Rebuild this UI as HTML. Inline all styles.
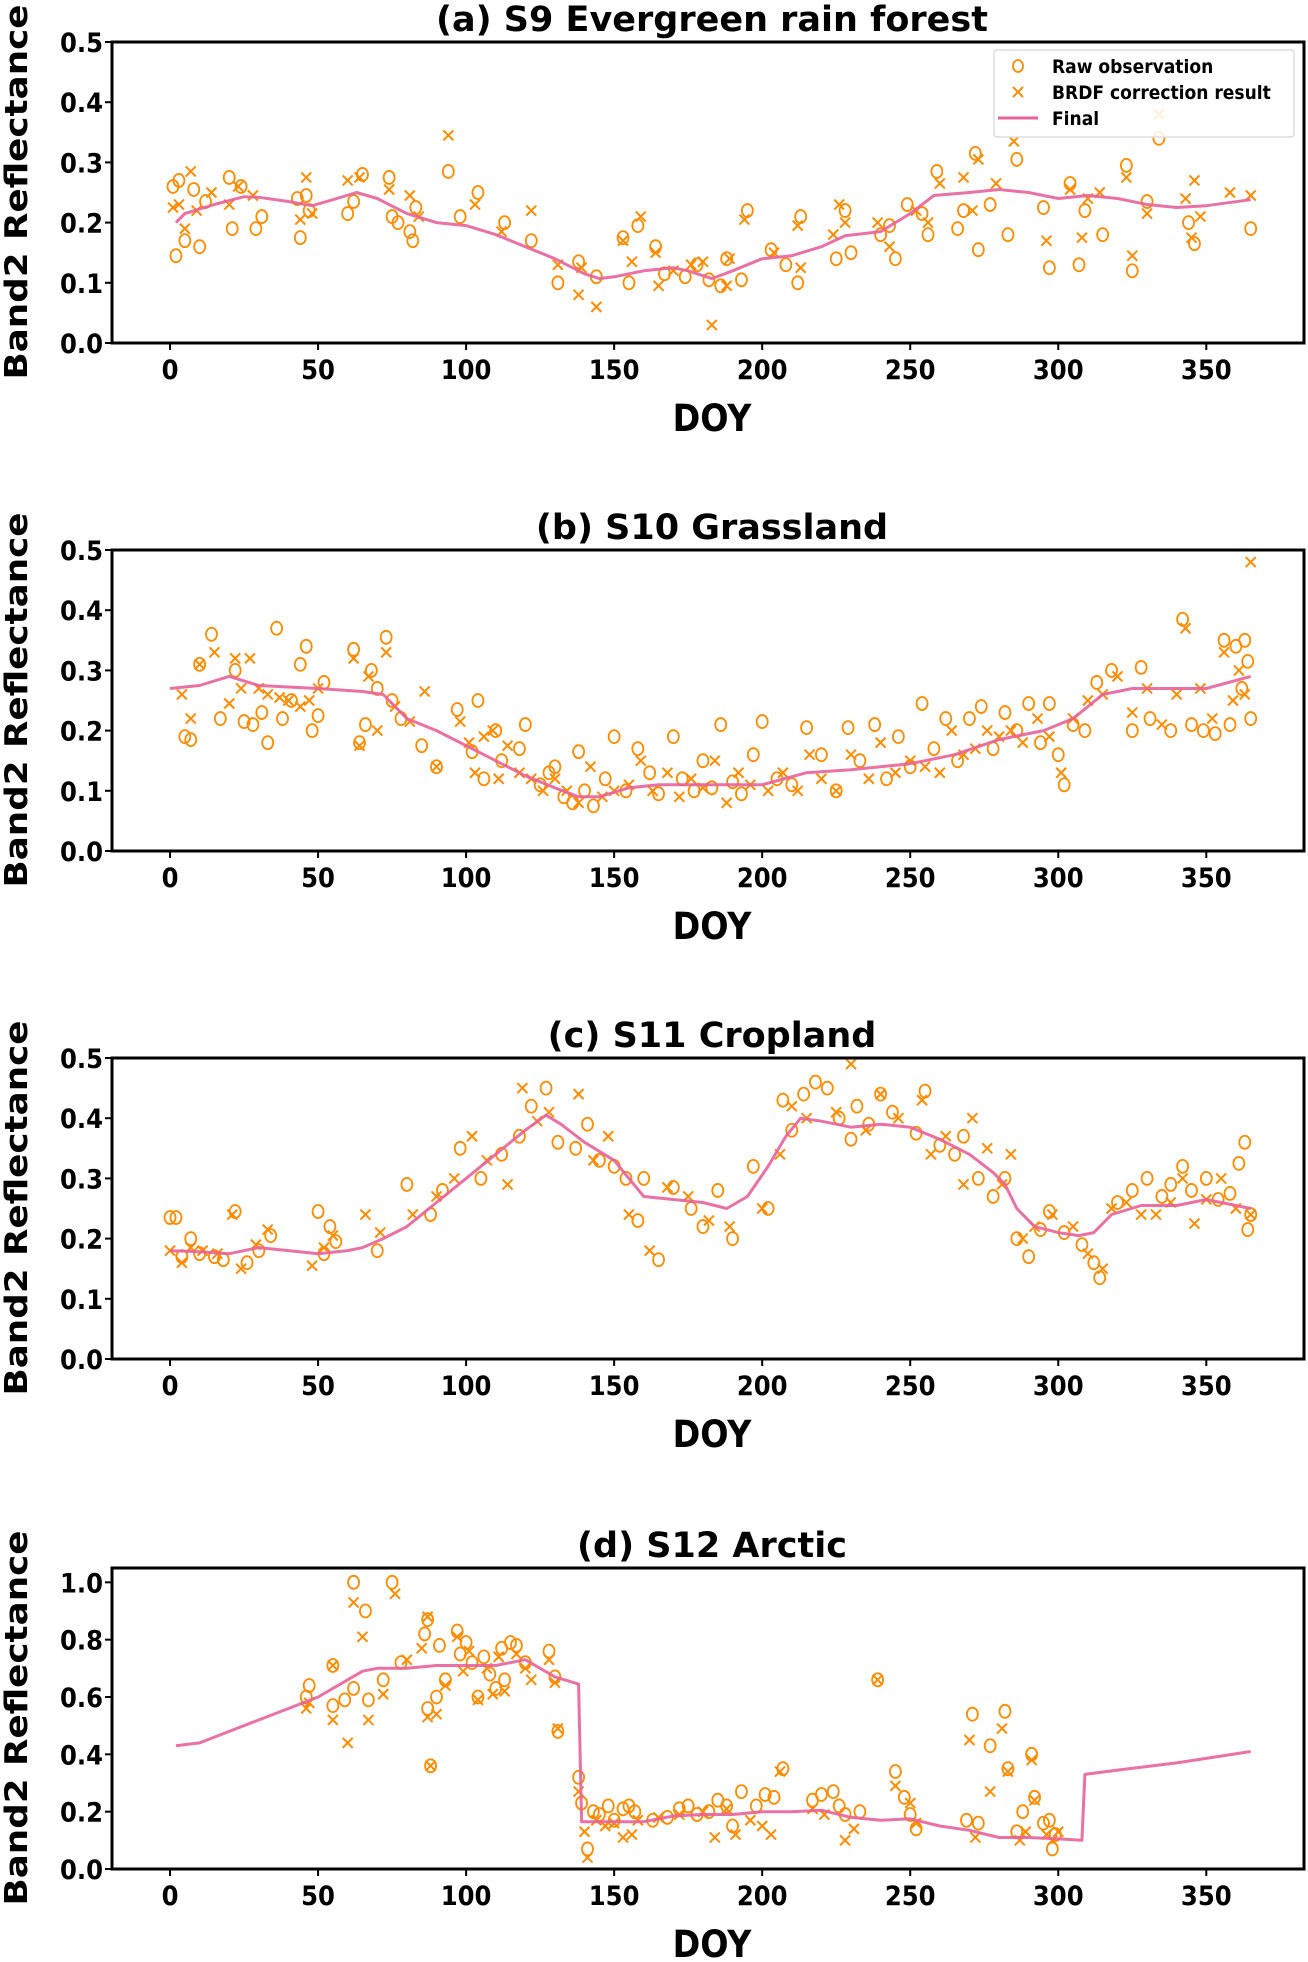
<!DOCTYPE html>
<html><head><meta charset="utf-8"><style>
html,body{margin:0;padding:0;background:#fff}
svg{display:block}
text{font-family:"DejaVu Sans Condensed","DejaVu Sans","Liberation Sans",sans-serif;font-weight:bold;fill:#000}
</style></head><body>
<svg id="fig" xmlns="http://www.w3.org/2000/svg" width="1308" height="1962" viewBox="0 0 1308 1962"></svg>
<script>
// ---------- data ----------
const panelTitles = ["(a) S9 Evergreen rain forest","(b) S10 Grassland","(c) S11 Cropland","(d) S12 Arctic"];
const xTicks = [0,50,100,150,200,250,300,350];
const yTicksA = [0.0,0.1,0.2,0.3,0.4,0.5];
const yTicksD = [0.0,0.2,0.4,0.6,0.8,1.0];
const yMaxes = [0.5,0.5,0.5,1.05];

const finalA = [[2,0.20],[5,0.215],[15,0.23],[25,0.243],[30,0.242],[40,0.235],[48,0.228],[55,0.238],[63,0.25],[70,0.24],[80,0.215],[90,0.2],[100,0.195],[110,0.18],[120,0.16],[130,0.14],[140,0.115],[145,0.107],[150,0.11],[160,0.12],[170,0.125],[175,0.12],[183,0.107],[190,0.12],[200,0.14],[210,0.145],[220,0.16],[228,0.178],[240,0.185],[250,0.215],[258,0.245],[270,0.25],[280,0.255],[290,0.25],[300,0.24],[310,0.245],[320,0.24],[330,0.23],[340,0.225],[350,0.228],[365,0.238]];
const circA = [[1,0.26],[2,0.145],[3,0.27],[5,0.17],[8,0.255],[10,0.16],[12,0.235],[20,0.275],[21,0.19],[24,0.26],[29,0.19],[31,0.21],[43,0.24],[44,0.175],[46,0.245],[47,0.22],[60,0.215],[62,0.235],[65,0.28],[74,0.275],[75,0.21],[77,0.2],[81,0.185],[82,0.17],[83,0.225],[94,0.285],[98,0.21],[104,0.25],[113,0.2],[122,0.17],[131,0.1],[138,0.135],[144,0.11],[153,0.175],[155,0.1],[158,0.195],[164,0.16],[167,0.115],[174,0.11],[178,0.13],[182,0.105],[186,0.095],[188,0.14],[193,0.105],[195,0.22],[203,0.155],[208,0.13],[212,0.1],[213,0.21],[225,0.14],[228,0.22],[230,0.15],[240,0.18],[243,0.195],[245,0.14],[249,0.23],[254,0.215],[256,0.18],[259,0.285],[266,0.19],[268,0.22],[272,0.315],[273,0.155],[277,0.23],[283,0.18],[286,0.305],[295,0.225],[297,0.125],[304,0.265],[307,0.13],[309,0.22],[315,0.18],[323,0.295],[325,0.12],[330,0.235],[334,0.34],[344,0.2],[346,0.165],[365,0.19]];
const crossA = [[1,0.225],[3,0.23],[5,0.19],[7,0.285],[9,0.22],[14,0.25],[20,0.23],[23,0.26],[28,0.245],[44,0.205],[46,0.275],[48,0.215],[60,0.27],[64,0.275],[74,0.255],[81,0.245],[84,0.21],[94,0.345],[103,0.23],[112,0.185],[122,0.22],[131,0.13],[138,0.08],[139,0.125],[144,0.06],[153,0.17],[156,0.135],[159,0.21],[164,0.15],[165,0.095],[170,0.12],[176,0.13],[180,0.135],[183,0.03],[188,0.095],[189,0.14],[194,0.205],[204,0.15],[212,0.195],[213,0.125],[224,0.18],[226,0.23],[228,0.2],[239,0.2],[243,0.16],[252,0.22],[256,0.2],[260,0.265],[268,0.275],[271,0.22],[273,0.305],[279,0.265],[285,0.335],[296,0.17],[304,0.255],[308,0.175],[310,0.24],[314,0.25],[323,0.275],[325,0.145],[330,0.215],[334,0.38],[343,0.24],[345,0.175],[346,0.27],[348,0.21],[358,0.25],[365,0.245]];

const finalB = [[0,0.27],[10,0.275],[20,0.29],[30,0.275],[50,0.27],[65,0.265],[72,0.26],[80,0.22],[90,0.2],[100,0.175],[110,0.15],[120,0.125],[130,0.105],[138,0.09],[145,0.09],[155,0.105],[165,0.11],[180,0.11],[200,0.11],[215,0.13],[230,0.135],[250,0.145],[265,0.16],[280,0.185],[295,0.2],[305,0.22],[315,0.26],[325,0.27],[340,0.27],[350,0.27],[365,0.29]];
const circB = [[5,0.19],[7,0.185],[10,0.31],[14,0.36],[17,0.22],[22,0.3],[25,0.215],[28,0.21],[31,0.23],[33,0.18],[36,0.37],[38,0.22],[41,0.25],[44,0.31],[46,0.34],[48,0.2],[50,0.225],[52,0.28],[62,0.335],[64,0.18],[66,0.21],[68,0.3],[70,0.27],[73,0.355],[75,0.25],[78,0.22],[85,0.175],[90,0.14],[97,0.235],[102,0.165],[104,0.25],[106,0.12],[110,0.2],[112,0.15],[118,0.17],[120,0.21],[125,0.11],[128,0.13],[130,0.14],[133,0.09],[136,0.08],[138,0.165],[140,0.1],[143,0.075],[147,0.12],[150,0.19],[154,0.1],[158,0.17],[162,0.13],[165,0.095],[170,0.19],[173,0.12],[177,0.1],[180,0.15],[183,0.105],[186,0.21],[190,0.115],[193,0.095],[197,0.16],[200,0.215],[205,0.12],[210,0.11],[215,0.205],[220,0.16],[225,0.1],[229,0.205],[233,0.15],[238,0.21],[242,0.12],[246,0.19],[250,0.14],[254,0.245],[258,0.17],[262,0.22],[266,0.15],[270,0.22],[274,0.24],[278,0.17],[282,0.23],[286,0.2],[290,0.245],[294,0.18],[297,0.245],[300,0.16],[302,0.11],[305,0.21],[309,0.2],[313,0.28],[318,0.3],[325,0.2],[328,0.305],[331,0.22],[338,0.2],[342,0.385],[345,0.21],[349,0.2],[353,0.195],[356,0.35],[358,0.21],[360,0.34],[362,0.27],[363,0.35],[364,0.315],[365,0.22]];
const crossB = [[4,0.26],[7,0.22],[10,0.31],[15,0.33],[20,0.245],[22,0.32],[24,0.27],[27,0.32],[30,0.27],[33,0.26],[37,0.255],[40,0.25],[44,0.24],[47,0.25],[50,0.27],[62,0.32],[64,0.175],[67,0.29],[70,0.2],[73,0.33],[76,0.24],[81,0.215],[86,0.265],[90,0.14],[98,0.215],[101,0.18],[103,0.13],[106,0.19],[109,0.2],[111,0.12],[114,0.175],[118,0.13],[122,0.12],[126,0.1],[130,0.12],[134,0.1],[138,0.08],[142,0.14],[146,0.09],[150,0.1],[155,0.11],[159,0.15],[163,0.1],[168,0.13],[172,0.09],[176,0.12],[180,0.105],[184,0.15],[188,0.08],[192,0.13],[196,0.11],[202,0.1],[207,0.13],[212,0.1],[216,0.16],[220,0.12],[225,0.1],[230,0.16],[236,0.12],[240,0.18],[245,0.13],[250,0.15],[255,0.14],[260,0.13],[264,0.2],[268,0.16],[272,0.17],[276,0.2],[280,0.19],[284,0.2],[288,0.18],[293,0.22],[297,0.19],[301,0.13],[305,0.22],[310,0.25],[315,0.26],[320,0.29],[325,0.23],[330,0.27],[335,0.21],[340,0.26],[343,0.37],[348,0.27],[352,0.22],[356,0.33],[359,0.25],[361,0.3],[363,0.26],[365,0.48]];

const finalC = [[0,0.18],[10,0.178],[20,0.175],[30,0.185],[40,0.18],[50,0.175],[60,0.18],[65,0.185],[72,0.2],[80,0.22],[90,0.26],[100,0.3],[110,0.34],[120,0.38],[127,0.405],[132,0.39],[140,0.36],[150,0.33],[155,0.3],[160,0.27],[170,0.265],[180,0.26],[188,0.25],[195,0.27],[202,0.32],[208,0.37],[213,0.4],[220,0.395],[230,0.385],[240,0.39],[250,0.385],[260,0.365],[270,0.34],[278,0.31],[282,0.29],[286,0.25],[292,0.22],[300,0.21],[307,0.205],[312,0.21],[318,0.24],[328,0.255],[340,0.255],[350,0.265],[365,0.25]];
const circC = [[0,0.235],[2,0.235],[4,0.17],[7,0.2],[10,0.175],[15,0.17],[18,0.165],[22,0.245],[26,0.16],[30,0.18],[34,0.205],[50,0.245],[52,0.175],[54,0.22],[56,0.195],[70,0.18],[80,0.29],[88,0.24],[92,0.28],[98,0.35],[105,0.3],[112,0.34],[118,0.37],[122,0.42],[127,0.45],[131,0.36],[137,0.35],[141,0.39],[145,0.33],[150,0.32],[154,0.3],[158,0.23],[160,0.3],[165,0.165],[170,0.285],[176,0.25],[180,0.22],[185,0.28],[190,0.2],[197,0.32],[202,0.25],[207,0.43],[210,0.38],[214,0.44],[218,0.46],[222,0.45],[226,0.4],[230,0.365],[232,0.42],[236,0.39],[240,0.44],[244,0.41],[252,0.375],[255,0.445],[260,0.355],[265,0.34],[268,0.37],[273,0.3],[278,0.27],[282,0.3],[286,0.2],[290,0.17],[294,0.215],[297,0.245],[302,0.21],[308,0.19],[312,0.16],[314,0.135],[320,0.26],[325,0.28],[330,0.3],[335,0.27],[338,0.29],[342,0.32],[345,0.28],[350,0.3],[354,0.265],[358,0.275],[361,0.325],[363,0.36],[364,0.215],[365,0.24]];
const crossC = [[0,0.18],[4,0.16],[7,0.185],[11,0.18],[16,0.175],[21,0.24],[24,0.15],[29,0.19],[33,0.215],[48,0.155],[52,0.185],[55,0.205],[66,0.24],[71,0.21],[82,0.24],[90,0.27],[96,0.3],[102,0.37],[107,0.33],[114,0.29],[119,0.45],[124,0.395],[128,0.41],[138,0.44],[143,0.33],[148,0.37],[155,0.24],[162,0.18],[168,0.285],[175,0.27],[182,0.23],[189,0.22],[200,0.25],[206,0.34],[210,0.42],[215,0.4],[225,0.41],[230,0.49],[235,0.38],[240,0.44],[246,0.4],[254,0.43],[257,0.34],[262,0.37],[268,0.29],[271,0.4],[276,0.35],[281,0.29],[284,0.34],[288,0.2],[292,0.22],[298,0.24],[305,0.22],[310,0.175],[315,0.15],[318,0.25],[323,0.26],[328,0.24],[333,0.24],[338,0.26],[342,0.3],[346,0.225],[350,0.265],[355,0.3],[360,0.25],[365,0.24]];

const finalD = [[2,0.43],[10,0.44],[20,0.48],[30,0.52],[40,0.56],[50,0.6],[60,0.66],[65,0.69],[70,0.70],[80,0.70],[90,0.71],[100,0.71],[110,0.71],[115,0.72],[120,0.73],[125,0.70],[130,0.67],[138,0.645],[139,0.165],[150,0.165],[160,0.165],[170,0.185],[180,0.19],[190,0.19],[200,0.2],[210,0.2],[220,0.205],[230,0.18],[240,0.17],[250,0.175],[260,0.15],[270,0.135],[280,0.11],[290,0.11],[300,0.105],[308,0.1],[309,0.33],[320,0.345],[340,0.37],[365,0.41]];
const circD = [[46,0.6],[47,0.64],[55,0.71],[55,0.57],[59,0.59],[62,0.63],[62,1.0],[66,0.9],[67,0.59],[72,0.66],[75,1.0],[78,0.72],[86,0.82],[87,0.87],[87,0.56],[88,0.36],[90,0.6],[91,0.78],[93,0.66],[97,0.83],[98,0.75],[100,0.79],[102,0.72],[104,0.6],[106,0.74],[108,0.68],[110,0.63],[112,0.77],[113,0.66],[115,0.79],[117,0.78],[120,0.72],[128,0.76],[130,0.67],[131,0.48],[138,0.32],[139,0.23],[141,0.07],[143,0.2],[145,0.19],[148,0.22],[150,0.17],[153,0.21],[155,0.22],[157,0.2],[163,0.17],[168,0.18],[172,0.21],[175,0.22],[178,0.19],[182,0.2],[185,0.24],[188,0.22],[190,0.15],[193,0.27],[198,0.22],[201,0.26],[204,0.25],[207,0.35],[217,0.24],[220,0.26],[224,0.27],[226,0.22],[228,0.19],[233,0.2],[239,0.66],[245,0.34],[248,0.25],[250,0.19],[252,0.14],[269,0.17],[271,0.54],[273,0.16],[277,0.43],[282,0.55],[283,0.35],[286,0.13],[288,0.2],[291,0.4],[292,0.25],[295,0.16],[297,0.17],[298,0.07],[299,0.12]];
const crossD = [[46,0.56],[47,0.58],[55,0.71],[55,0.52],[60,0.44],[62,0.93],[65,0.81],[67,0.52],[72,0.61],[76,0.96],[80,0.73],[85,0.77],[87,0.88],[87,0.53],[88,0.36],[90,0.54],[93,0.64],[97,0.81],[99,0.69],[101,0.76],[104,0.59],[107,0.7],[109,0.61],[111,0.74],[113,0.62],[117,0.75],[120,0.7],[122,0.66],[128,0.73],[130,0.65],[131,0.49],[138,0.27],[140,0.13],[141,0.04],[144,0.17],[147,0.15],[150,0.16],[153,0.11],[156,0.12],[158,0.17],[165,0.18],[172,0.19],[180,0.2],[184,0.11],[188,0.21],[191,0.12],[196,0.17],[200,0.15],[203,0.12],[206,0.34],[217,0.21],[221,0.19],[228,0.1],[231,0.14],[239,0.66],[245,0.29],[250,0.23],[252,0.16],[270,0.45],[272,0.11],[277,0.27],[281,0.49],[283,0.34],[287,0.1],[289,0.13],[291,0.38],[292,0.24],[296,0.12],[298,0.1],[300,0.13]];

const finals = [finalA,finalB,finalC,finalD];
const circs = [circA,circB,circC,circD];
const crosses = [crossA,crossB,crossC,crossD];

// ---------- drawing ----------
const NS = "http://www.w3.org/2000/svg";
const svg = document.getElementById("fig");
function mk(tag, attrs, parent){
  const e = document.createElementNS(NS, tag);
  for (const k in attrs) e.setAttribute(k, attrs[k]);
  (parent||svg).appendChild(e);
  return e;
}
const L = 112, R = 1304, X0 = -19.6, X1 = 383;
const tops = [42, 550, 1058, 1568];
const H = 301;
const ORANGE = "#ff8c00", PINK = "#e8629a";
const letters = ["a","b","c","d"];

for (let p = 0; p < 4; p++) {
  const top = tops[p], bot = top + H, ymax = yMaxes[p];
  const xs = d => L + (d - X0) / (X1 - X0) * (R - L);
  const ys = v => bot - v / ymax * H;
  const g = mk("g", {});
  
  

  const t = mk("text", {x: 712, y: top - 11, "font-size": 35, "text-anchor": "middle", style: "font-family:'DejaVu Sans','Liberation Sans',sans-serif"}, g);
  t.textContent = panelTitles[p];
  
  

  const yl = mk("text", {x: 0, y: 0, "font-size": 31, "text-anchor": "middle", transform: `translate(27,${top+150}) rotate(-90)`, style: "font-family:'DejaVu Sans','Liberation Sans',sans-serif", textLength: 375, lengthAdjust: "spacingAndGlyphs"}, g);
  yl.textContent = "Band2 Reflectance";
  
  

  const xl = mk("text", {x: 712, y: bot + 88, "font-size": 37, "text-anchor": "middle"}, g);
  xl.textContent = "DOY";
  
  

  for (const tv of xTicks) {
    const x = xs(tv);
    const tk = mk("line", {x1: x, x2: x, y1: bot, y2: bot + 7, stroke: "#000", "stroke-width": 2}, g);
    
    
    const lb = mk("text", {x: x, y: bot + 36, "font-size": 27, "text-anchor": "middle"}, g);
    lb.textContent = tv;
    
    
  }
  const yt = p === 3 ? yTicksD : yTicksA;
  for (const tv of yt) {
    const y = ys(tv);
    const tk = mk("line", {x1: L - 7, x2: L, y1: y, y2: y, stroke: "#000", "stroke-width": 2}, g);
    
    
    const lb = mk("text", {x: L - 9, y: y + 10, "font-size": 27, "text-anchor": "end"}, g);
    lb.textContent = tv.toFixed(1);
    
    
  }

  for (const [d, v] of circs[p]) {
    const c = mk("ellipse", {cx: xs(d), cy: ys(v), rx: 5.5, ry: 6.5, fill: "none", stroke: ORANGE, "stroke-width": 1.8}, g);
    
    
  }
  for (const [d, v] of crosses[p]) {
    const x = xs(d), y = ys(v), s = 5;
    const c = mk("path", {d: `M${x-s},${y-s}L${x+s},${y+s}M${x-s},${y+s}L${x+s},${y-s}`, stroke: ORANGE, "stroke-width": 2, fill: "none"}, g);
    
    
  }
  const pts = finals[p].map(([d, v]) => `${xs(d).toFixed(1)},${ys(v).toFixed(1)}`).join(" ");
  const ln = mk("polyline", {points: pts, fill: "none", stroke: PINK, "stroke-width": 3, "stroke-linejoin": "round", opacity: 0.9}, g);
  
  

  const frame = mk("rect", {x: L, y: top, width: R - L, height: H, fill: "none", stroke: "#000", "stroke-width": 3}, g);
  
  

  if (p === 0) {
    const lg = mk("g", {}, g);
    
    
    mk("rect", {x: 994, y: 50, width: 300, height: 87, fill: "#fff", "fill-opacity": 0.85, stroke: "#ddd", "stroke-width": 1.5, rx: 3}, lg);
    const items = ["Raw observation", "BRDF correction result", "Final"];
    for (let i = 0; i < 3; i++) {
      const y = 66 + i * 26;
      const e = mk("g", {}, lg);
      
      
      if (i === 0) mk("ellipse", {cx: 1018, cy: y, rx: 5, ry: 6, fill: "none", stroke: ORANGE, "stroke-width": 1.8}, e);
      if (i === 1) mk("path", {d: `M1013,${y-5}L1023,${y+5}M1013,${y+5}L1023,${y-5}`, stroke: ORANGE, "stroke-width": 2}, e);
      if (i === 2) mk("line", {x1: 998, x2: 1038, y1: y, y2: y, stroke: PINK, "stroke-width": 3}, e);
      const tx = mk("text", {x: 1052, y: y + 7, "font-size": 19}, e);
      tx.textContent = items[i];
    }
  }
}
</script>
</body></html>
